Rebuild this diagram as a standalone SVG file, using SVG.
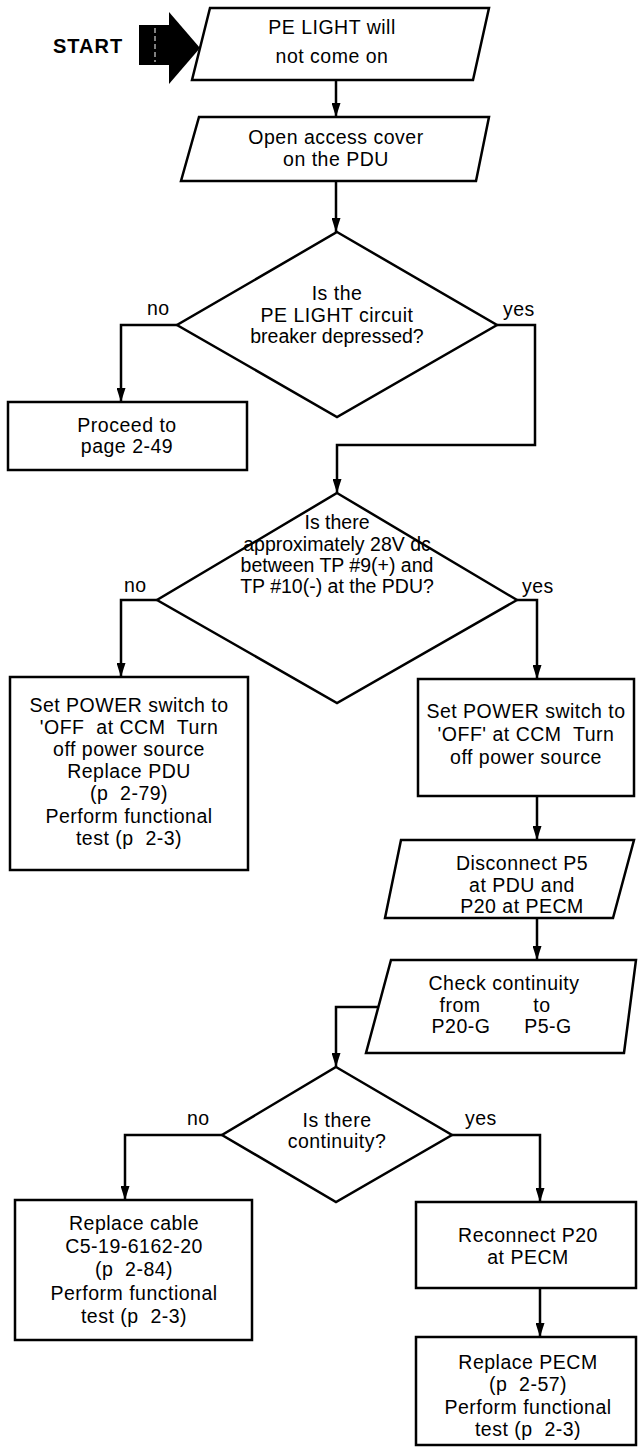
<svg xmlns="http://www.w3.org/2000/svg" width="639" height="1448" viewBox="0 0 639 1448">
<style>
.n{fill:#fff;stroke:#000;stroke-width:2.5;stroke-linejoin:miter}
.c{fill:none;stroke:#000;stroke-width:2.5}
text{font-family:"Liberation Sans",Arial,Helvetica,sans-serif;font-size:19.5px;letter-spacing:0.5px;fill:#000;text-anchor:middle}
.l{text-anchor:start}
.pre{white-space:pre}
.t{letter-spacing:0}
</style>
<defs>
<marker id="ah" markerUnits="userSpaceOnUse" viewBox="0 0 14 9" refX="14" refY="4.5" markerWidth="14" markerHeight="9" orient="auto">
<path d="M0,0 L14,4.5 L0,9 z" fill="#000"/>
</marker>
</defs>
<rect width="639" height="1448" fill="#fff"/>
<g id="start">
<text x="53" y="53" class="l" style="font-weight:bold;font-size:20px;letter-spacing:1px">START</text>
<rect x="139" y="25" width="31" height="40" fill="#000"/>
<polygon points="169,12 200,48 169,84" fill="#000"/>
<line x1="155" y1="28" x2="155" y2="62" stroke="#fff" stroke-width="1" stroke-dasharray="5,3"/>
</g>
<g id="connectors">
<path class="c" d="M336,80 V117" marker-end="url(#ah)"/>
<path class="c" d="M336,181 V232" marker-end="url(#ah)"/>
<path class="c" d="M177,325 H121 V402" marker-end="url(#ah)"/>
<path class="c" d="M497,325 H535 V445 H337 V493" marker-end="url(#ah)"/>
<path class="c" d="M157,600 H121 V677" marker-end="url(#ah)"/>
<path class="c" d="M517,600 H537 V679" marker-end="url(#ah)"/>
<path class="c" d="M537,796 V840" marker-end="url(#ah)"/>
<path class="c" d="M537,918 V960" marker-end="url(#ah)"/>
<path class="c" d="M378,1007 H336 V1067" marker-end="url(#ah)"/>
<path class="c" d="M222,1135 H125 V1200" marker-end="url(#ah)"/>
<path class="c" d="M452,1135 H540 V1202" marker-end="url(#ah)"/>
<path class="c" d="M540,1288 V1337" marker-end="url(#ah)"/>
</g>
<g id="n1">
<polygon class="n" points="210,8 489,8 473,80 192,80"/>
<text x="332" y="34">PE LIGHT will</text>
<text x="332" y="63">not come on</text>
</g>
<g id="n2">
<polygon class="n" points="199,117 489,117 476,181 181,181"/>
<text x="336" y="144">Open access cover</text>
<text x="336" y="166">on the PDU</text>
</g>
<g id="d1">
<polygon class="n" points="337,232 497,325 337,417 177,325"/>
<text x="337" y="300">Is the</text>
<text x="337" y="322">PE LIGHT circuit</text>
<text x="337" y="343" class="t">breaker depressed?</text>
<text x="147" y="315" class="l">no</text>
<text x="503" y="316" class="l">yes</text>
</g>
<g id="n3">
<rect class="n" x="8" y="402" width="239" height="68"/>
<text x="127" y="432">Proceed to</text>
<text x="127" y="453">page 2-49</text>
</g>
<g id="d2">
<polygon class="n" points="337,493 517,600 337,703 157,600"/>
<text x="337" y="529" class="t">Is there</text>
<text x="337" y="551" class="t">approximately 28V dc</text>
<text x="337" y="572" class="t">between TP #9(+) and</text>
<text x="337" y="593" class="t">TP #10(-) at the PDU?</text>
<text x="124" y="592" class="l">no</text>
<text x="522" y="593" class="l">yes</text>
</g>
<g id="n4">
<rect class="n" x="10" y="677" width="238" height="193"/>
<text x="129" y="712">Set POWER switch to</text>
<text x="129" y="734" class="pre">'OFF  at CCM  Turn</text>
<text x="129" y="756">off power source</text>
<text x="129" y="778">Replace PDU</text>
<text x="129" y="800" class="pre">(p  2-79)</text>
<text x="129" y="823">Perform functional</text>
<text x="129" y="845" class="pre">test (p  2-3)</text>
</g>
<g id="n5">
<rect class="n" x="418" y="679" width="216" height="117"/>
<text x="526" y="718">Set POWER switch to</text>
<text x="526" y="741" class="pre">'OFF' at CCM  Turn</text>
<text x="526" y="764">off power source</text>
</g>
<g id="n6">
<polygon class="n" points="401,840 634,840 613,918 385,918"/>
<text x="522" y="870">Disconnect P5</text>
<text x="522" y="892">at PDU and</text>
<text x="522" y="913">P20 at PECM</text>
</g>
<g id="n7">
<polygon class="n" points="391,960 636,960 624,1053 366,1053"/>
<text x="504" y="990">Check continuity</text>
<text x="460" y="1012">from</text>
<text x="542" y="1012">to</text>
<text x="461" y="1033">P20-G</text>
<text x="548" y="1033">P5-G</text>
</g>
<g id="d3">
<polygon class="n" points="336,1067 452,1135 336,1202 222,1135"/>
<text x="337" y="1127">Is there</text>
<text x="337" y="1148">continuity?</text>
<text x="187" y="1125" class="l">no</text>
<text x="465" y="1125" class="l">yes</text>
</g>
<g id="n8">
<rect class="n" x="15" y="1200" width="237" height="140"/>
<text x="134" y="1230">Replace cable</text>
<text x="134" y="1253">C5-19-6162-20</text>
<text x="134" y="1276" class="pre">(p  2-84)</text>
<text x="134" y="1300">Perform functional</text>
<text x="134" y="1323" class="pre">test (p  2-3)</text>
</g>
<g id="n9">
<rect class="n" x="416" y="1202" width="220" height="86"/>
<text x="528" y="1242">Reconnect P20</text>
<text x="528" y="1264">at PECM</text>
</g>
<g id="n10">
<rect class="n" x="416" y="1337" width="220" height="108"/>
<text x="528" y="1369">Replace PECM</text>
<text x="528" y="1391" class="pre">(p  2-57)</text>
<text x="528" y="1414">Perform functional</text>
<text x="528" y="1436" class="pre">test (p  2-3)</text>
</g>
</svg>
